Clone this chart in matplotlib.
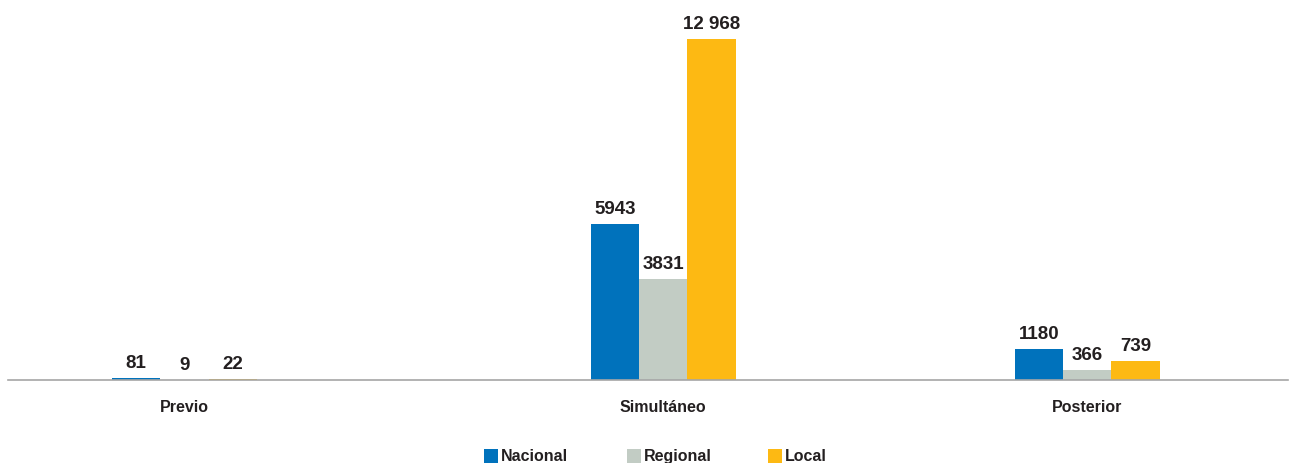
import matplotlib
matplotlib.use("Agg")
import matplotlib.pyplot as plt
from matplotlib.patches import Rectangle
import numpy as np

# Data
categories = ["Previo", "Simultáneo", "Posterior"]
series_names = ["Nacional", "Regional", "Local"]
nacional = [81, 5943, 1180]
regional = [9, 3831, 366]
local = [22, 12968, 739]

# Layout / style
group_centers = [0.0, 1.0, 1.886]
bar_width = 0.101
colors = ["#0072BC", "#C2CCC4", "#FDB913"]
text_color = "#231F20"
font = ["Liberation Sans Narrow", "Liberation Sans", "DejaVu Sans"]

plt.rcParams["font.family"] = font

fig = plt.figure(figsize=(13.01, 4.64), dpi=100)
ax = fig.add_axes([8 / 1301, (464 - 381) / 464, 1280 / 1301, (381 - 10) / 464])


def fmt(v):
    s = f"{v:d}"
    if v >= 10000:
        s = f"{v:,}".replace(",", " ")
    return s


series = [nacional, regional, local]
centers = np.array(group_centers)
for i, (vals, col) in enumerate(zip(series, colors)):
    xs = centers + (i - 1) * bar_width
    bars = ax.bar(xs, vals, width=bar_width, color=col, linewidth=0, zorder=2)
    for b, v in zip(bars, vals):
        ax.annotate(fmt(v), (b.get_x() + b.get_width() / 2, v),
                    xytext=(0, 5), textcoords="offset points",
                    ha="center", va="bottom", fontsize=13.5,
                    fontweight="bold", color=text_color)

ax.set_xlim(-0.369, 2.306)
ax.set_ylim(0, 12968 * 371 / 341)
ax.set_xticks(centers, categories)
ax.tick_params(axis="x", length=0, pad=14, labelsize=11.5, labelcolor=text_color)
for lbl in ax.get_xticklabels():
    lbl.set_fontweight("bold")
ax.set_yticks([])
for side in ["top", "right", "left"]:
    ax.spines[side].set_visible(False)
ax.spines["bottom"].set_color("#A6A6A6")
ax.spines["bottom"].set_linewidth(1.2)

# Legend drawn along the bottom edge
W, H = 1301, 464
legend_x = [484, 627, 768]
for x0, name, col in zip(legend_x, series_names, colors):
    fig.patches.append(Rectangle((x0 / W, 0 / H), 14 / W, 14 / H,
                                 transform=fig.transFigure, color=col,
                                 linewidth=0))
    fig.text((x0 + 17) / W, 7 / H, name, ha="left", va="center",
             fontsize=11.5, fontweight="bold", color=text_color)

fig.savefig("out.png", dpi=100)
